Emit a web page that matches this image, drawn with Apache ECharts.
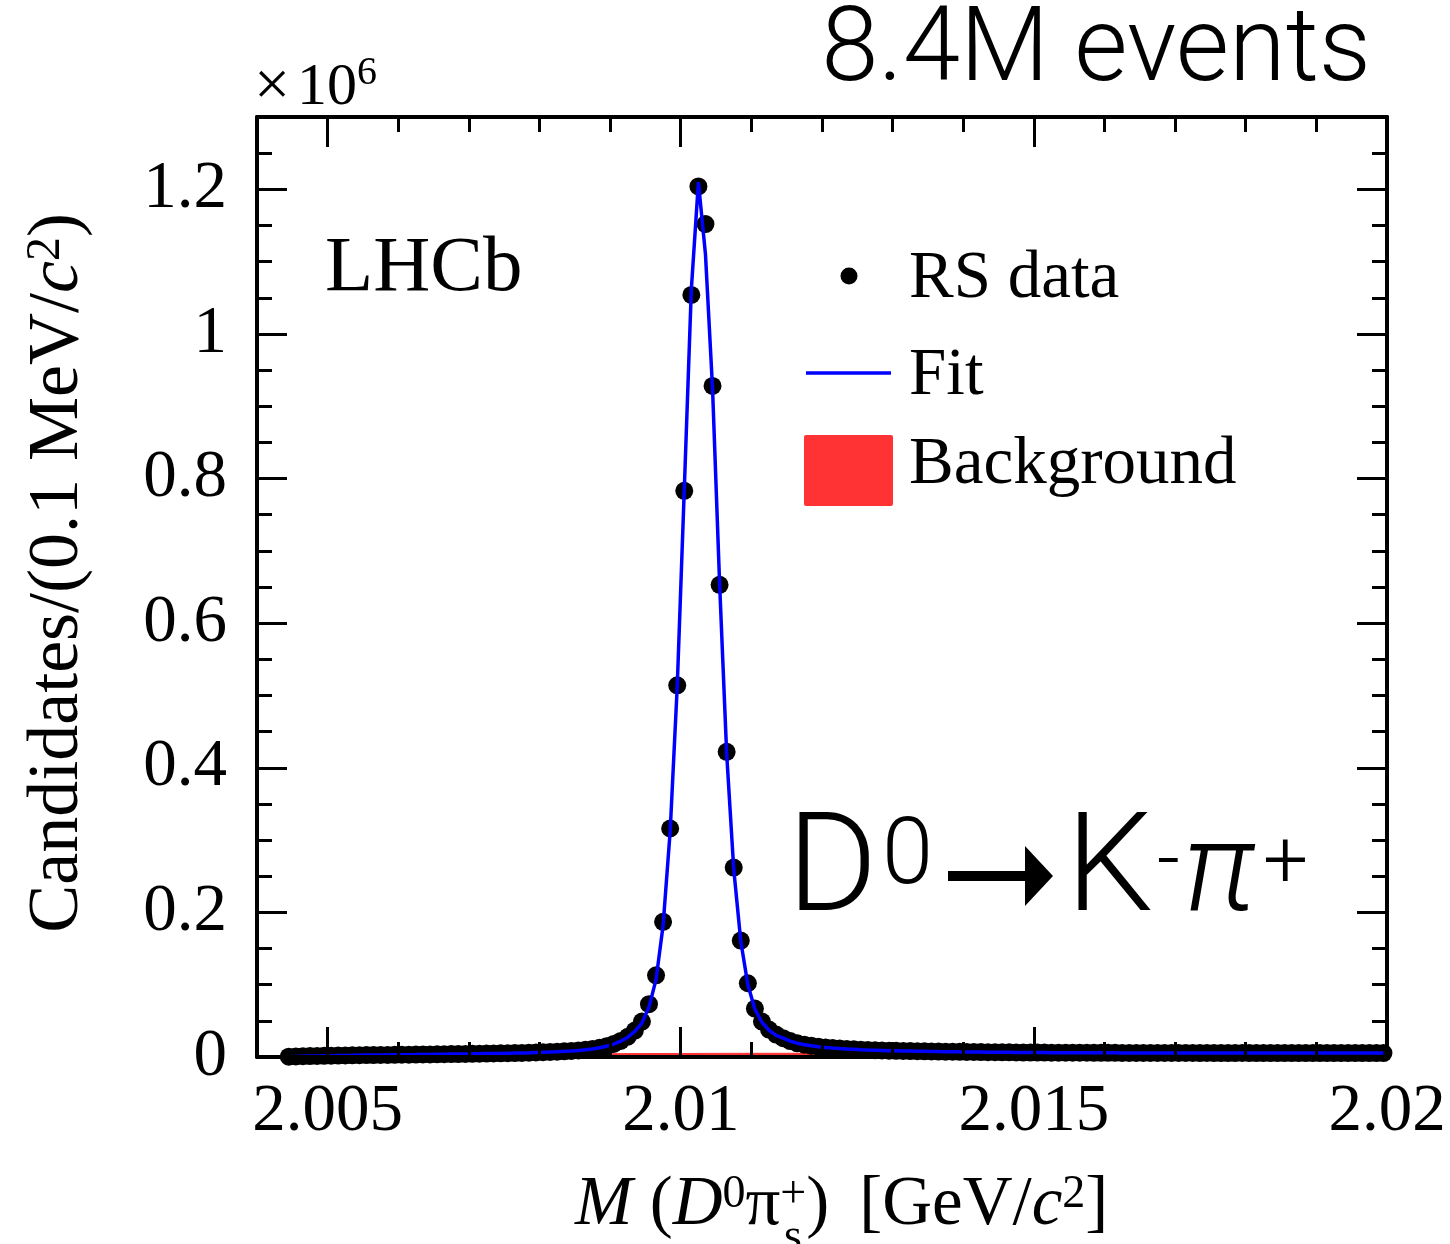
<!DOCTYPE html>
<html>
<head>
<meta charset="utf-8">
<title>D0 pi mass</title>
<script src="https://cdn.jsdelivr.net/npm/echarts@6.0.0/dist/echarts.min.js"></script>
<style>
html, body { margin: 0; padding: 0; background: #fff; }
#chart { width: 1450px; height: 1244px; }
</style>
</head>
<body>
<div id="chart"></div>
<script>
// bin centres, 0.1 MeV bins, GeV/c2
var mass = [
    2.00445, 2.00455, 2.00465, 2.00475, 2.00485, 2.00495, 2.00505, 2.00515, 2.00525, 2.00535,
    2.00545, 2.00555, 2.00565, 2.00575, 2.00585, 2.00595, 2.00605, 2.00615, 2.00625, 2.00635,
    2.00645, 2.00655, 2.00665, 2.00675, 2.00685, 2.00695, 2.00705, 2.00715, 2.00725, 2.00735,
    2.00745, 2.00755, 2.00765, 2.00775, 2.00785, 2.00795, 2.00805, 2.00815, 2.00825, 2.00835,
    2.00845, 2.00855, 2.00865, 2.00875, 2.00885, 2.00895, 2.00905, 2.00915, 2.00925, 2.00935,
    2.00945, 2.00955, 2.00965, 2.00975, 2.00985, 2.00995, 2.01005, 2.01015, 2.01025, 2.01035,
    2.01045, 2.01055, 2.01065, 2.01075, 2.01085, 2.01095, 2.01105, 2.01115, 2.01125, 2.01135,
    2.01145, 2.01155, 2.01165, 2.01175, 2.01185, 2.01195, 2.01205, 2.01215, 2.01225, 2.01235,
    2.01245, 2.01255, 2.01265, 2.01275, 2.01285, 2.01295, 2.01305, 2.01315, 2.01325, 2.01335,
    2.01345, 2.01355, 2.01365, 2.01375, 2.01385, 2.01395, 2.01405, 2.01415, 2.01425, 2.01435,
    2.01445, 2.01455, 2.01465, 2.01475, 2.01485, 2.01495, 2.01505, 2.01515, 2.01525, 2.01535,
    2.01545, 2.01555, 2.01565, 2.01575, 2.01585, 2.01595, 2.01605, 2.01615, 2.01625, 2.01635,
    2.01645, 2.01655, 2.01665, 2.01675, 2.01685, 2.01695, 2.01705, 2.01715, 2.01725, 2.01735,
    2.01745, 2.01755, 2.01765, 2.01775, 2.01785, 2.01795, 2.01805, 2.01815, 2.01825, 2.01835,
    2.01845, 2.01855, 2.01865, 2.01875, 2.01885, 2.01895, 2.01905, 2.01915, 2.01925, 2.01935,
    2.01945, 2.01955, 2.01965, 2.01975, 2.01985, 2.01995
];

// RS data, candidates x10^6
var rsData = [
    0.0004, 0.0008, 0.0011, 0.0013, 0.0015, 0.0017, 0.0019, 0.0020, 0.0022, 0.0023,
    0.0025, 0.0026, 0.0027, 0.0028, 0.0029, 0.0030, 0.0031, 0.0032, 0.0034, 0.0035,
    0.0036, 0.0037, 0.0039, 0.0040, 0.0041, 0.0043, 0.0044, 0.0046, 0.0047, 0.0049,
    0.0051, 0.0053, 0.0055, 0.0057, 0.0060, 0.0063, 0.0066, 0.0069, 0.0073, 0.0078,
    0.0084, 0.0091, 0.0100, 0.0112, 0.0128, 0.0150, 0.0180, 0.0222, 0.0280, 0.0365,
    0.049, 0.073, 0.113, 0.187, 0.316, 0.514, 0.783, 1.054, 1.204, 1.152,
    0.928, 0.653, 0.422, 0.262, 0.161, 0.102, 0.067, 0.049, 0.038, 0.031,
    0.026, 0.022, 0.019, 0.017, 0.0155, 0.0142, 0.0132, 0.0124, 0.0117, 0.0111,
    0.0106, 0.0101, 0.0097, 0.0094, 0.0091, 0.0088, 0.0086, 0.0084, 0.0082, 0.0080,
    0.0078, 0.0077, 0.0075, 0.0074, 0.0073, 0.0071, 0.0070, 0.0069, 0.0068, 0.0067,
    0.0066, 0.0065, 0.0064, 0.0063, 0.0062, 0.0062, 0.0061, 0.0061, 0.0060, 0.0060,
    0.0060, 0.0059, 0.0059, 0.0059, 0.0058, 0.0058, 0.0058, 0.0058, 0.0057, 0.0057,
    0.0057, 0.0057, 0.0057, 0.0056, 0.0056, 0.0056, 0.0056, 0.0056, 0.0056, 0.0055,
    0.0056, 0.0055, 0.0055, 0.0055, 0.0055, 0.0056, 0.0055, 0.0055, 0.0055, 0.0055,
    0.0055, 0.0055, 0.0054, 0.0055, 0.0055, 0.0055, 0.0055, 0.0054, 0.0055, 0.0055,
    0.0055, 0.0054, 0.0055, 0.0055, 0.0054, 0.0055
];

// fit curve on the same bins
var fitVals = [
    0.0002, 0.0008, 0.0011, 0.0013, 0.0015, 0.0017, 0.0019, 0.0021, 0.0022, 0.0023,
    0.0025, 0.0026, 0.0027, 0.0028, 0.0029, 0.0030, 0.0031, 0.0032, 0.0033, 0.0035,
    0.0036, 0.0037, 0.0038, 0.0040, 0.0041, 0.0042, 0.0044, 0.0045, 0.0047, 0.0049,
    0.0050, 0.0052, 0.0054, 0.0057, 0.0059, 0.0062, 0.0065, 0.0069, 0.0073, 0.0078,
    0.0084, 0.0091, 0.0100, 0.0112, 0.0128, 0.0149, 0.0178, 0.0218, 0.0274, 0.0355,
    0.047, 0.069, 0.107, 0.182, 0.312, 0.512, 0.785, 1.062, 1.210, 1.110,
    0.925, 0.655, 0.420, 0.260, 0.160, 0.100, 0.066, 0.048, 0.037, 0.030,
    0.026, 0.022, 0.019, 0.017, 0.0155, 0.0142, 0.0132, 0.0124, 0.0117, 0.0111,
    0.0106, 0.0101, 0.0097, 0.0094, 0.0091, 0.0088, 0.0086, 0.0084, 0.0082, 0.0080,
    0.0078, 0.0077, 0.0075, 0.0074, 0.0073, 0.0071, 0.0070, 0.0069, 0.0068, 0.0067,
    0.0066, 0.0065, 0.0064, 0.0063, 0.0062, 0.0062, 0.0061, 0.0061, 0.0060, 0.0060,
    0.0060, 0.0059, 0.0059, 0.0059, 0.0058, 0.0058, 0.0058, 0.0058, 0.0057, 0.0057,
    0.0057, 0.0057, 0.0057, 0.0056, 0.0056, 0.0056, 0.0056, 0.0056, 0.0056, 0.0055,
    0.0055, 0.0055, 0.0055, 0.0055, 0.0055, 0.0055, 0.0055, 0.0055, 0.0055, 0.0055,
    0.0055, 0.0055, 0.0055, 0.0055, 0.0055, 0.0055, 0.0055, 0.0055, 0.0055, 0.0055,
    0.0055, 0.0055, 0.0055, 0.0055, 0.0055, 0.0055
];

// background component
var bgMass = [2.00441, 2.0045, 2.005, 2.0055, 2.006, 2.0065, 2.007, 2.0075, 2.008, 2.0085,
              2.009, 2.0095, 2.01, 2.0105, 2.011, 2.0115, 2.012, 2.013, 2.014, 2.015,
              2.016, 2.017, 2.018, 2.019, 2.02];
var bgVals = [0, 0.0010, 0.0020, 0.0026, 0.0030, 0.0034, 0.0037, 0.0040, 0.0042, 0.0044,
              0.0046, 0.0048, 0.0049, 0.0050, 0.0051, 0.0051, 0.0052, 0.0052, 0.0052, 0.0052,
              0.0052, 0.0052, 0.0052, 0.0052, 0.0052];

var xMajor = [2.005, 2.01, 2.015, 2.02];
var xMinor = [2.006, 2.007, 2.008, 2.009, 2.011, 2.012, 2.013, 2.014, 2.016, 2.017, 2.018, 2.019];
var yMajor = [0, 0.2, 0.4, 0.6, 0.8, 1, 1.2];
var yMinor = [0.05, 0.1, 0.15, 0.25, 0.3, 0.35, 0.45, 0.5, 0.55, 0.65, 0.7, 0.75,
              0.85, 0.9, 0.95, 1.05, 1.1, 1.15, 1.25];

var SERIF = '"Liberation Serif", "Times New Roman", serif';
var SANS = 'Roboto, "Liberation Sans", sans-serif';

function pairs(xs, ys) {
    var out = [];
    for (var i = 0; i < xs.length; i++) {
        out.push([xs[i], ys[i]]);
    }
    return out;
}

function xAxisDef(pos, ticks, len, main) {
    return {
        type: 'value', position: pos, min: 2.004, max: 2.02, z: 5,
        splitLine: {show: false},
        axisLine: {show: main, onZero: false, lineStyle: {color: '#000', width: 4}},
        axisTick: {show: true, inside: true, length: len, customValues: ticks,
                   lineStyle: {color: '#000', width: 3}},
        axisLabel: (main && pos === 'bottom') ? {
            show: true, customValues: ticks, margin: 22, color: '#000',
            fontFamily: SERIF, fontSize: 67,
            formatter: function (v) { return String(v); }
        } : {show: false}
    };
}

function yAxisDef(pos, ticks, len, main) {
    return {
        type: 'value', position: pos, min: 0, max: 1.3, z: 5,
        splitLine: {show: false},
        axisLine: {show: main, onZero: false, lineStyle: {color: '#000', width: 4}},
        axisTick: {show: true, inside: true, length: len, customValues: ticks,
                   lineStyle: {color: '#000', width: 3}},
        axisLabel: (main && pos === 'left') ? {
            show: true, customValues: ticks, margin: 30, color: '#000',
            fontFamily: SERIF, fontSize: 67,
            formatter: function (v) { return String(v); }
        } : {show: false}
    };
}

function label(x, y, text, font, align) {
    return {type: 'text', x: x, y: y, z: 100, style: {
        text: text, font: font, fill: '#000',
        align: align || 'left', verticalAlign: 'middle',
        textAlign: align || 'left', textVerticalAlign: 'middle'
    }};
}

var chart = echarts.init(document.getElementById('chart'));

var option = {
    animation: false,
    backgroundColor: '#fff',
    grid: {left: 257, right: 63, top: 117, bottom: 187},
    xAxis: [
        xAxisDef('bottom', xMajor, 30, true),
        xAxisDef('bottom', xMinor, 15, false),
        xAxisDef('top', xMajor, 30, true),
        xAxisDef('top', xMinor, 15, false)
    ],
    yAxis: [
        yAxisDef('left', yMajor, 30, true),
        yAxisDef('left', yMinor, 15, false),
        yAxisDef('right', yMajor, 30, true),
        yAxisDef('right', yMinor, 15, false)
    ],
    series: [
        {
            name: 'Background', type: 'line', xAxisIndex: 0, yAxisIndex: 0, z: 1,
            data: pairs(bgMass, bgVals), showSymbol: false,
            lineStyle: {color: '#ff3333', width: 1},
            areaStyle: {color: '#ff3333', opacity: 1}
        },
        {
            name: 'RS data', type: 'scatter', xAxisIndex: 0, yAxisIndex: 0, z: 2,
            data: pairs(mass, rsData), symbol: 'circle', symbolSize: 18,
            itemStyle: {color: '#000', opacity: 1}
        },
        {
            name: 'Fit', type: 'line', xAxisIndex: 0, yAxisIndex: 0, z: 3,
            data: pairs(mass, fitVals), showSymbol: false,
            lineStyle: {color: '#0000ff', width: 3.5}
        }
    ],
    graphic: [
        // exponent
        label(254, 88, '×', '64px ' + SERIF),
        label(297, 88, '10', '60px ' + SERIF),
        label(357, 73, '6', '40px ' + SERIF),
        // events count
        label(1371, 54, '8.4M events', '300 103px ' + SANS, 'right'),
        // LHCb
        label(325, 269, 'LHCb', '79px ' + SERIF),
        // legend
        {type: 'circle', z: 100, shape: {cx: 849, cy: 276, r: 8.5}, style: {fill: '#000'}},
        {type: 'line', z: 100, shape: {x1: 806, y1: 373, x2: 891, y2: 373},
         style: {stroke: '#0000ff', lineWidth: 3.5}},
        {type: 'rect', z: 100, shape: {x: 804, y: 435, width: 89, height: 71, r: 2},
         style: {fill: '#ff3333'}},
        label(909, 279, 'RS data', '67px ' + SERIF),
        label(909, 376, 'Fit', '67px ' + SERIF),
        label(909, 465, 'Background', '67px ' + SERIF),
        // decay label D0 -> K- pi+
        label(787, 875, 'D', '300 138px ' + SANS),
        label(882, 860, '0', '300 92px ' + SANS),
        {type: 'polygon', z: 100, shape: {points: [[948, 871], [1025, 871], [1025, 846], [1053, 876],
                                                  [1025, 906], [1025, 881], [948, 881]]},
         style: {fill: '#000'}},
        label(1066, 875, 'K', '300 138px ' + SANS),
        label(1157, 865, '-', '300 80px ' + SANS),
        label(1183, 879, 'π', 'italic 300 125px ' + SANS),
        label(1263, 867, '+', '300 80px ' + SANS),
        // y axis title
        {type: 'text', x: 58, y: 213, z: 100, rotation: Math.PI / 2, style: {
            text: '{n|Candidates/(0.1 MeV/}{i|c}{s|2}{n|)}',
            align: 'right', verticalAlign: 'middle', textAlign: 'right', textVerticalAlign: 'middle',
            rich: {
                n: {fontFamily: SERIF, fontSize: 72, fill: '#000', color: '#000'},
                i: {fontFamily: SERIF, fontSize: 72, fontStyle: 'italic', fill: '#000', color: '#000'},
                s: {fontFamily: SERIF, fontSize: 48, fill: '#000', color: '#000', verticalAlign: 'top'}
            }
        }},
        // x axis title
        {type: 'text', x: 575, y: 1206, z: 100, style: {
            text: '{i|M}{n| (}{i|D}{s|0}{n|π}{s|+}{n|)}{b|[GeV/}{i|c}{s|2}{n|]}',
            align: 'left', verticalAlign: 'middle', textAlign: 'left', textVerticalAlign: 'middle',
            rich: {
                n: {fontFamily: SERIF, fontSize: 69, fill: '#000', color: '#000'},
                b: {fontFamily: SERIF, fontSize: 69, fill: '#000', color: '#000', padding: [0, 0, 0, 30]},
                i: {fontFamily: SERIF, fontSize: 69, fontStyle: 'italic', fill: '#000', color: '#000'},
                s: {fontFamily: SERIF, fontSize: 46, fill: '#000', color: '#000', verticalAlign: 'top'}
            }
        }},
        label(784, 1238, 's', '46px ' + SERIF)
    ]
};

chart.setOption(option);
</script>
</body>
</html>
